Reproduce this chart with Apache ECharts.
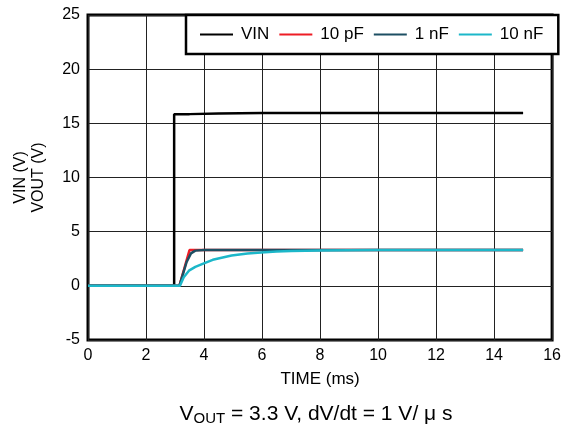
<!DOCTYPE html>
<html>
<head>
<meta charset="utf-8">
<script src="https://cdn.jsdelivr.net/npm/echarts@6/dist/echarts.min.js"></script>
<style>
  html, body { margin: 0; padding: 0; background: #fff; }
  #chart { width: 564px; height: 425px; }
</style>
</head>
<body>
<div id="chart"></div>
<script>
var seriesNames = ["VIN", "10 pF", "1 nF", "10 nF"];
var seriesColors = ["#000000", "#ee1c25", "#1d4f63", "#1cb7c9"];

var timeVin = [0, 2.97, 2.97, 3.5, 4.5, 6, 8, 10, 12, 15];
var vin = [0, 0, 15.85, 15.85, 15.9, 15.95, 15.95, 15.95, 15.95, 15.95];

var time10p = [0, 3.15, 3.5, 4, 6, 8, 10, 12, 15];
var vout10p = [0, 0, 3.3, 3.3, 3.3, 3.3, 3.3, 3.3, 3.3];

var time1n = [0, 3.15, 3.4, 3.55, 3.7, 4, 6, 8, 10, 12, 15];
var vout1n = [0, 0, 2.2, 3.0, 3.25, 3.3, 3.3, 3.3, 3.3, 3.3, 3.3];

var time10n = [0, 3.17, 3.3, 3.48, 3.7, 3.93, 4.3, 4.95, 5.5, 5.97, 6.5, 7, 8, 10, 12, 15];
var vout10n = [0, 0, 0.8, 1.4, 1.75, 2.0, 2.4, 2.8, 2.98, 3.07, 3.17, 3.22, 3.27, 3.3, 3.3, 3.3];

var xTicks = { min: 0, max: 16, interval: 2 };
var yTicks = { min: -5, max: 25, interval: 5 };

function pairs(t, v) {
  return t.map(function (x, i) { return [x, v[i]]; });
}

var chart = echarts.init(document.getElementById("chart"));
var font = "Liberation Sans, Arial, sans-serif";

var dataSets = [pairs(timeVin, vin), pairs(time10p, vout10p), pairs(time1n, vout1n), pairs(time10n, vout10n)];
var widths = [2.5, 2.5, 2.5, 2.5];

var option = {
  animation: false,
  textStyle: { fontFamily: font },
  grid: { left: 88, right: 7, top: 15, bottom: 85, show: true, borderColor: "#000", borderWidth: 3, backgroundColor: "#fff" },
  title: {
    text: "{n|V}{s|OUT}{n| = 3.3 V, dV/dt = 1 V/ μ s}",
    left: 311,
    textAlign: "center",
    top: 398,
    textStyle: {
      fontWeight: "normal",
      rich: {
        n: { fontSize: 21, fontFamily: font, fontWeight: "normal", color: "#000" },
        s: { fontSize: 15, fontFamily: font, fontWeight: "normal", color: "#000", verticalAlign: "bottom", padding: [8, 0, 0, 0] }
      }
    }
  },
  legend: {
    left: 186,
    top: 15,
    padding: [11, 15, 11, 14],
    backgroundColor: "#fff",
    borderColor: "#000",
    borderWidth: 2.5,
    borderRadius: 0,
    icon: "rect",
    itemWidth: 33,
    itemHeight: 2,
    itemGap: 10,
    textStyle: { fontSize: 17, color: "#000", fontFamily: font, padding: [0, 0, 0, 3] },
    data: seriesNames
  },
  xAxis: {
    type: "value",
    min: xTicks.min,
    max: xTicks.max,
    interval: xTicks.interval,
    name: "TIME (ms)",
    nameLocation: "middle",
    nameGap: 31,
    nameTextStyle: { fontSize: 17, color: "#000", fontFamily: font },
    axisLine: { show: false },
    axisTick: { show: false },
    axisLabel: { fontSize: 16, color: "#000", margin: 8 },
    splitLine: { show: true, lineStyle: { color: "#222", width: 1 } }
  },
  yAxis: {
    type: "value",
    min: yTicks.min,
    max: yTicks.max,
    interval: yTicks.interval,
    name: "VIN (V)\nVOUT (V)",
    nameLocation: "middle",
    nameGap: 40,
    nameRotate: 90,
    nameTextStyle: { fontSize: 16, color: "#000", fontFamily: font, lineHeight: 18 },
    axisLine: { show: false },
    axisTick: { show: false },
    axisLabel: { fontSize: 16, color: "#000", margin: 8 },
    splitLine: { show: true, lineStyle: { color: "#222", width: 1 } }
  },
  series: seriesNames.map(function (name, i) {
    return {
      name: name,
      type: "line",
      data: dataSets[i],
      symbol: "none",
      color: seriesColors[i],
      lineStyle: { color: seriesColors[i], width: widths[i] },
      z: 2 + i
    };
  })
};

chart.setOption(option);
</script>
</body>
</html>
